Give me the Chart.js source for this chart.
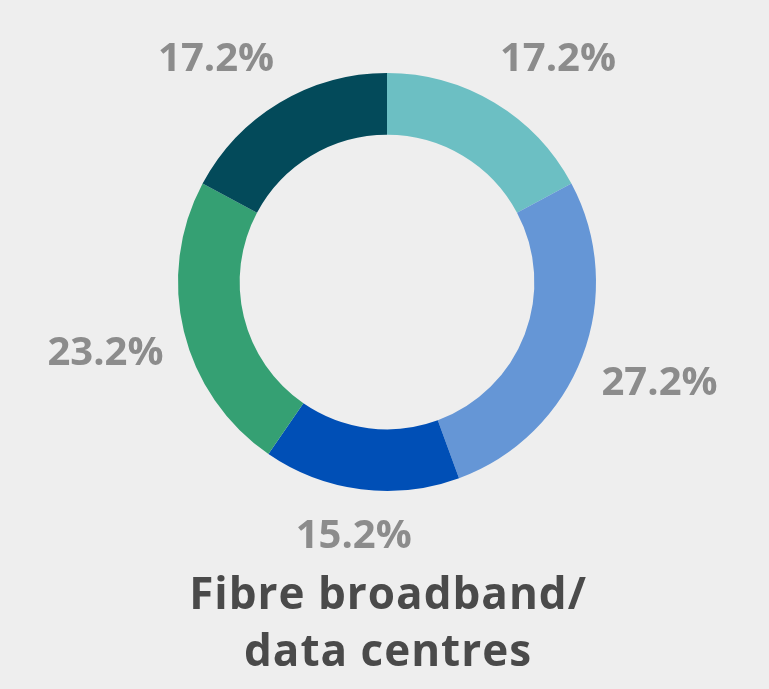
<!DOCTYPE html>
<html>
<head>
<meta charset="utf-8">
<script src="https://cdn.jsdelivr.net/npm/chart.js@4.4.1/dist/chart.umd.min.js"></script>
<style>
html,body{margin:0;padding:0;background:#eeeeee;}
#wrap{position:relative;width:769px;height:689px;}
</style>
</head>
<body>
<div id="wrap"><canvas id="c"></canvas></div>
<script>
const categories = ["Segment A", "Segment B", "Segment C", "Segment D", "Segment E"];
const values = [17.2, 27.2, 15.2, 23.2, 17.2];
const sliceColors = ["#6cbfc3", "#6596d6", "#004fb6", "#35a073", "#034a5a"];
const titleLines = ["Fibre broadband/", "data centres"];

const labelFont = "bold 40px 'Open Sans'";
const labelColor = "#8c8c8c";

const outsideLabels = {
  id: "outsideLabels",
  afterDatasetsDraw(chart) {
    const ctx = chart.ctx;
    const meta = chart.getDatasetMeta(0);
    ctx.save();
    ctx.font = labelFont;
    ctx.fillStyle = labelColor;
    ctx.textAlign = "center";
    ctx.textBaseline = "middle";
    meta.data.forEach((arc, i) => {
      const p = arc.getProps(["x", "y", "startAngle", "endAngle", "outerRadius"], true);
      const mid = (p.startAngle + p.endAngle) / 2;
      const text = values[i].toFixed(1) + "%";
      const w = ctx.measureText(text).width;
      const h = 30;
      const dx = Math.cos(mid), dy = Math.sin(mid);
      const ra = p.outerRadius + 33;
      const fx = Math.sign(dx) * Math.min(1, Math.pow(Math.abs(dx) / 0.5, 2)) * 0.8;
      const fy = Math.max(-1, Math.min(1, dy * 4));
      ctx.fillText(text, p.x + dx * ra + fx * w / 2, p.y + dy * ra + fy * h / 2);
    });
    ctx.restore();
  }
};

const bottomTitle = {
  id: "bottomTitle",
  afterDraw(chart) {
    const ctx = chart.ctx;
    ctx.save();
    ctx.font = "bold 44px 'Open Sans'";
    ctx.letterSpacing = "1px";
    ctx.fillStyle = "#4a4a4a";
    ctx.textAlign = "center";
    ctx.textBaseline = "alphabetic";
    const cx = (chart.chartArea.left + chart.chartArea.right) / 2 + 1;
    ctx.fillText(titleLines[0], cx, 609);
    ctx.fillText(titleLines[1], cx, 666);
    ctx.restore();
  }
};

new Chart(document.getElementById("c"), {
  type: "doughnut",
  data: {
    labels: categories,
    datasets: [{
      data: values,
      backgroundColor: sliceColors,
      borderWidth: 0,
      hoverOffset: 0
    }]
  },
  options: {
    responsive: true,
    maintainAspectRatio: false,
    animation: false,
    cutout: "70.5%",
    layout: { padding: { left: 178, right: 173, top: 73, bottom: 198 } },
    plugins: { legend: { display: false }, tooltip: { enabled: false }, title: { display: false } }
  },
  plugins: [outsideLabels, bottomTitle]
});
</script>
</body>
</html>
